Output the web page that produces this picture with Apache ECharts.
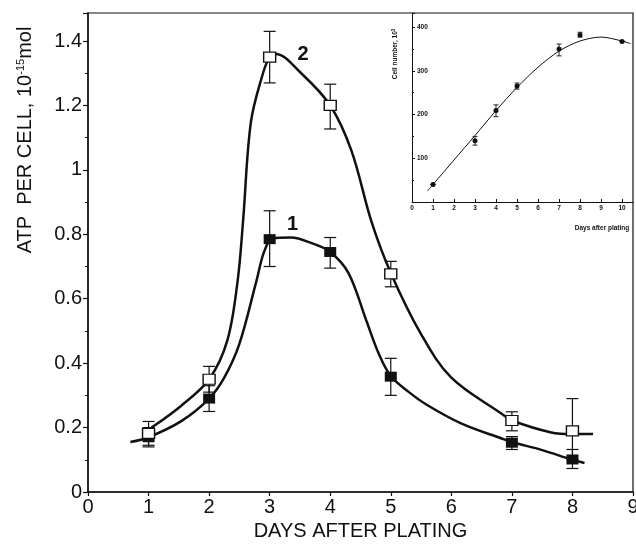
<!DOCTYPE html>
<html>
<head>
<meta charset="utf-8">
<script src="https://cdn.jsdelivr.net/npm/echarts@6/dist/echarts.min.js"></script>
<style>
  html, body { margin: 0; background: #fff; }
  #chart { width: 636px; height: 548px; }
</style>
</head>
<body>
<div id="chart"></div>
<script>
var FONT = '"Liberation Sans", Arial, sans-serif';
var INK = "#111";

// main chart: ATP per cell
var days = [1, 2, 3, 4, 5, 7, 8];
var atp1 = [0.17, 0.29, 0.785, 0.745, 0.358, 0.153, 0.101];
var atp1Low = [0.14, 0.25, 0.70, 0.695, 0.30, 0.132, 0.073];
var atp1High = [0.20, 0.33, 0.873, 0.79, 0.415, 0.172, 0.132];
var atp2 = [0.182, 0.35, 1.35, 1.20, 0.677, 0.222, 0.19];
var atp2Low = [0.145, 0.31, 1.27, 1.127, 0.637, 0.19, 0.10];
var atp2High = [0.219, 0.39, 1.43, 1.266, 0.716, 0.249, 0.29];

// hand drawn curves
var curve1X = [0.7, 1, 1.54, 2, 2.25, 2.5, 2.78, 2.91, 3.05, 3.35, 3.7, 4, 4.3, 4.6, 4.8, 5, 5.3, 5.6, 6.17, 6.83, 7, 7.5, 8, 8.2];
var curve1Y = [0.155, 0.17, 0.22, 0.29, 0.355, 0.46, 0.654, 0.747, 0.787, 0.79, 0.772, 0.745, 0.68, 0.53, 0.43, 0.36, 0.31, 0.27, 0.212, 0.166, 0.155, 0.13, 0.10, 0.09];
var curve2X = [1.05, 1.54, 2, 2.3, 2.47, 2.56, 2.69, 2.89, 3.0, 3.1, 3.52, 4, 4.35, 4.68, 5.0, 5.5, 6.0, 6.83, 7, 7.65, 8, 8.34];
var curve2Y = [0.2, 0.268, 0.35, 0.47, 0.654, 0.839, 1.148, 1.30, 1.35, 1.36, 1.30, 1.20, 1.06, 0.84, 0.68, 0.49, 0.355, 0.243, 0.222, 0.185, 0.18, 0.18];

// curve numbers
var tagX = [3.38, 3.55];
var tagY = [0.829, 1.357];
var tagText = ["1", "2"];

// inset: cell number
var cellDays = [1, 3, 4, 5, 7, 8, 10];
var cells = [40, 140, 209, 265, 350, 382, 367];
var cellsLow = [40, 130, 195, 258, 334, 377, 367];
var cellsHigh = [40, 150, 222, 272, 361, 388, 367];
var cellCurveX = [0.74, 1, 2, 3, 4, 5, 6, 7, 8, 9, 10, 10.4];
var cellCurveY = [25, 40, 96, 152, 209, 262, 308, 345, 368, 377, 368, 362];

function zip(xs, ys) {
  return xs.map(function (x, i) { return [x, ys[i]]; });
}
function zip3(xs, lo, hi) {
  return xs.map(function (x, i) { return [x, lo[i], hi[i]]; });
}

function errRender(cap, width) {
  return function (params, api) {
    var x = api.value(0);
    var p1 = api.coord([x, api.value(1)]);
    var p2 = api.coord([x, api.value(2)]);
    var st = { stroke: INK, lineWidth: width };
    return {
      type: "group",
      children: [
        { type: "line", shape: { x1: p1[0], y1: p1[1], x2: p2[0], y2: p2[1] }, style: st },
        { type: "line", shape: { x1: p1[0] - cap, y1: p1[1], x2: p1[0] + cap, y2: p1[1] }, style: st },
        { type: "line", shape: { x1: p2[0] - cap, y1: p2[1], x2: p2[0] + cap, y2: p2[1] }, style: st }
      ]
    };
  };
}

var chart = echarts.init(document.getElementById("chart"));

var bigText = { fontSize: 20, fontFamily: FONT, color: INK };
var smallText = { fontSize: 6.5, fontFamily: FONT, fontWeight: "bold", color: INK };

var option = {
  animation: false,
  grid: [
    { left: 88, right: 3, top: 13, bottom: 56, show: true, borderColor: INK, borderWidth: 1.2, outerBoundsMode: "none" },
    { left: 412, right: 3, top: 13, bottom: 346, outerBoundsMode: "none" }
  ],
  xAxis: [
    {
      gridIndex: 0, type: "value", min: 0, max: 9, interval: 1,
      axisLine: { show: true, lineStyle: { color: INK, width: 1.5 } },
      axisTick: { show: true, length: 4, lineStyle: { color: INK, width: 1.2 } },
      axisLabel: Object.assign({ margin: 5 }, bigText),
      splitLine: { show: false },
      name: "DAYS AFTER PLATING", nameLocation: "middle", nameGap: 29,
      nameTextStyle: bigText
    },
    {
      gridIndex: 1, type: "value", min: 0, max: 10.52, interval: 1,
      axisLine: { show: true, lineStyle: { color: INK, width: 1 } },
      axisTick: { show: true, inside: true, length: 3, lineStyle: { color: INK, width: 1 } },
      axisLabel: Object.assign({ margin: 3, showMaxLabel: false }, smallText),
      splitLine: { show: false }
    }
  ],
  yAxis: [
    {
      gridIndex: 0, type: "value", min: 0, max: 1.487, interval: 0.2,
      axisLine: { show: true, lineStyle: { color: INK, width: 1.5 } },
      axisTick: { show: true, length: 5, lineStyle: { color: INK, width: 1.2 } },
      minorTick: { show: true, splitNumber: 2, length: 3, lineStyle: { color: INK, width: 1 } },
      axisLabel: Object.assign({ margin: 6, showMaxLabel: false }, bigText),
      splitLine: { show: false }
    },
    {
      gridIndex: 1, type: "value", min: 0, max: 432, interval: 100,
      axisLine: { show: true, lineStyle: { color: INK, width: 1 } },
      axisTick: { show: true, inside: true, length: 3, lineStyle: { color: INK, width: 1 } },
      minorTick: { show: true, splitNumber: 2, length: 2, lineStyle: { color: INK, width: 1 } },
      axisLabel: Object.assign({ inside: true, margin: 5, showMinLabel: false, showMaxLabel: false }, smallText),
      splitLine: { show: false }
    }
  ],
  graphic: [
    {
      type: "text", x: 25, y: 140, rotation: Math.PI / 2,
      style: {
        text: "{a|ATP  PER CELL, 10}{s|-15}{a|mol}",
        align: "center", verticalAlign: "middle",
        rich: {
          a: { fontSize: 20, fontFamily: FONT, fill: INK },
          s: { fontSize: 11, fontFamily: FONT, fill: INK, verticalAlign: "top" }
        }
      }
    },
    {
      type: "text", x: 395, y: 54, rotation: Math.PI / 2,
      style: {
        text: "{a|Cell number, 10}{s|3}",
        align: "center", verticalAlign: "middle",
        rich: {
          a: { fontSize: 6.5, fontWeight: "bold", fontFamily: FONT, fill: INK },
          s: { fontSize: 4.5, fontWeight: "bold", fontFamily: FONT, fill: INK, verticalAlign: "top" }
        }
      }
    },
    {
      type: "text", x: 602, y: 228,
      style: {
        text: "Days after plating", align: "center", verticalAlign: "middle",
        fontSize: 6.5, fontWeight: "bold", fontFamily: FONT, fill: INK
      }
    }
  ],
  series: [
    {
      type: "line", xAxisIndex: 0, yAxisIndex: 0, data: zip(curve1X, curve1Y),
      smooth: 0.35, showSymbol: false, lineStyle: { color: INK, width: 2.5 }, z: 2
    },
    {
      type: "line", xAxisIndex: 0, yAxisIndex: 0, data: zip(curve2X, curve2Y),
      smooth: 0.35, showSymbol: false, lineStyle: { color: INK, width: 2.5 }, z: 2
    },
    {
      type: "custom", xAxisIndex: 0, yAxisIndex: 0, data: zip3(days, atp1Low, atp1High),
      encode: { x: 0, y: [1, 2] }, renderItem: errRender(6, 1.2), z: 3
    },
    {
      type: "custom", xAxisIndex: 0, yAxisIndex: 0, data: zip3(days, atp2Low, atp2High),
      encode: { x: 0, y: [1, 2] }, renderItem: errRender(6, 1.2), z: 3
    },
    {
      type: "scatter", xAxisIndex: 0, yAxisIndex: 0, data: zip(days, atp1),
      symbol: "rect", symbolSize: [12, 10], itemStyle: { color: INK, opacity: 1 }, z: 4
    },
    {
      type: "scatter", xAxisIndex: 0, yAxisIndex: 0, data: zip(days, atp2),
      symbol: "rect", symbolSize: [12, 10],
      itemStyle: { color: "#fff", borderColor: INK, borderWidth: 1.3, opacity: 1 }, z: 4
    },
    {
      type: "scatter", xAxisIndex: 0, yAxisIndex: 0, symbolSize: 0, silent: true,
      itemStyle: { opacity: 1 },
      data: tagX.map(function (x, i) { return { value: [x, tagY[i]], name: tagText[i] }; }),
      label: {
        show: true, position: "inside", formatter: "{b}", opacity: 1,
        fontSize: 20, fontWeight: "bold", fontFamily: FONT, color: INK
      }
    },
    {
      type: "line", xAxisIndex: 1, yAxisIndex: 1, data: zip(cellCurveX, cellCurveY),
      smooth: 0.3, showSymbol: false, lineStyle: { color: INK, width: 1 }
    },
    {
      type: "custom", xAxisIndex: 1, yAxisIndex: 1, data: zip3(cellDays, cellsLow, cellsHigh),
      encode: { x: 0, y: [1, 2] }, renderItem: errRender(2.5, 0.9)
    },
    {
      type: "scatter", xAxisIndex: 1, yAxisIndex: 1, data: zip(cellDays, cells),
      symbol: "circle", symbolSize: 5, itemStyle: { color: INK, opacity: 1 }
    }
  ]
};

chart.setOption(option);
window.addEventListener("resize", function () {
  chart.resize();
});
</script>
</body>
</html>
